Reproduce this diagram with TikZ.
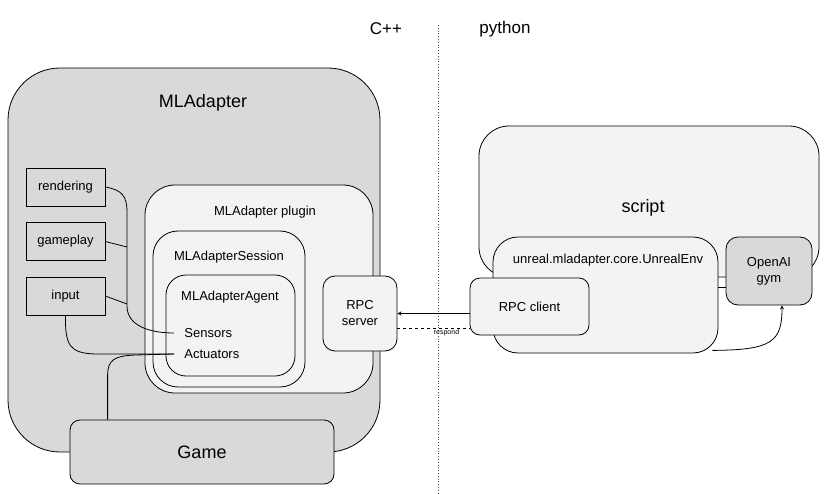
\documentclass[tikz,border=0pt]{standalone}
\usepackage{fontspec}
\setmainfont{Liberation Sans}
\usetikzlibrary{positioning}
\definecolor{boxgray}{HTML}{D9D9D9}
\definecolor{boxlight}{HTML}{F3F3F3}

\begin{document}
\begin{tikzpicture}[>=stealth, x=1pt, y=-1pt, line width=0.8pt,
    font=\fontsize{13}{16}\selectfont]
    \useasboundingbox (0,0) rectangle (826,494);
    % C++ side
    \node[draw, fill=boxgray, rounded corners=52pt, minimum width=372pt, minimum height=384pt] (mla) at (194,260) {};
    \node[font=\fontsize{18}{21}\selectfont] (mlaT) at (203,103) {MLAdapter};
    \node[draw, fill=boxgray, minimum width=79pt, minimum height=38pt] (rend) at (65.5,187) {rendering};
    \node[draw, fill=boxgray, minimum width=79pt, minimum height=38pt] (gplay) at (65.5,241.5) {gameplay};
    \node[draw, fill=boxgray, minimum width=79pt, minimum height=38pt] (inp) at (65.5,296) {input};
    \node[draw, fill=boxlight, rounded corners=30pt, minimum width=228pt, minimum height=208pt] (plugin) at (259,289) {};
    \node (pluginT) at (265,212) {MLAdapter plugin};
    \node[draw, fill=boxlight, rounded corners=25pt, minimum width=152pt, minimum height=156pt] (sess) at (229,309) {};
    \node (sessT) at (229,257) {MLAdapterSession};
    \node[draw, fill=boxlight, rounded corners=20pt, minimum width=129pt, minimum height=101pt] (agent) at (230.5,325.5) {};
    \node (agentT) at (230,297) {MLAdapterAgent};
    \node[anchor=west, inner xsep=10pt] (sens) at (174,333) {Sensors};
    \node[anchor=west, inner xsep=10pt] (act) at (174,354) {Actuators};
    \node[draw, fill=boxlight, rounded corners=12pt, minimum width=74pt, minimum height=75pt, align=center] (rpcs) at (360,313.5) {RPC\\server};
    \coordinate (joinG) at (127,247);
    \coordinate (joinI) at (127,304);
    % Lines to sensors and actuators
    \draw (rend.east) .. controls (122,190) and (127,196) .. (127,212) -- (127,306) .. controls (127,326) and (150,333) .. (sens.west);
    \draw (gplay.east) -- (joinG);
    \draw (inp.east) -- (joinI);
    \draw (inp.south) .. controls (65,346) and (70,353) .. (95,354) -- (act.west);
    \node[draw, fill=boxgray, rounded corners=10pt, minimum width=264pt, minimum height=64pt, font=\fontsize{18}{21}\selectfont] (game) at (202,452) {Game};
    \draw (game.north west) ++(38,0) -- ++(0,-45) .. controls (108,360) and (114,356) .. (135,355) -- (act.west);
    % Divider
    \node[font=\fontsize{17}{20}\selectfont] (cpp) at (386,29) {C++};
    \node[font=\fontsize{17}{20}\selectfont] (py) at (505,29) {python};
    \coordinate (divT) at (438,25);
    \coordinate (divB) at (438,494);
    \draw[dotted, black!70] (divT) -- (divB);
    % python side
    \node[draw, fill=boxlight, rounded corners=30pt, minimum width=340pt, minimum height=151pt] (script) at (649,201.5) {};
    \node[font=\fontsize{18}{21}\selectfont] (scriptT) at (643,208) {script};
    \node[draw, fill=boxlight, rounded corners=25pt, minimum width=225pt, minimum height=116pt] (env) at (605.5,295) {};
    \node (envT) at (608,260) {unreal.mladapter.core.UnrealEnv};
    \node[draw, fill=boxlight, rounded corners=10pt, minimum width=119pt, minimum height=57pt] (client) at (529.5,306.5) {RPC client};
    \node[draw, fill=boxgray, rounded corners=12pt, minimum width=86pt, minimum height=68pt, align=center] (gym) at (769,271) {OpenAI\\gym};
    % Arrows connecting the nodes
    \draw[->] (client.west |- rpcs.east) -- (rpcs.east);
    \draw[dashed] ([yshift=-14.5pt]rpcs.east) -- ([yshift=-14.5pt]rpcs.east -| client.west)
        node[below, pos=0.68, inner sep=1.5pt, font=\fontsize{7}{8}\selectfont] {respond};
    \draw ([yshift=8pt]env.east) -- ([yshift=8pt]env.east -| gym.west);
    \draw[->] ([xshift=-6pt, yshift=3pt]env.south east) .. controls (772,350) and (782,342) .. ([xshift=13pt]gym.south);
\end{tikzpicture}
\end{document}
